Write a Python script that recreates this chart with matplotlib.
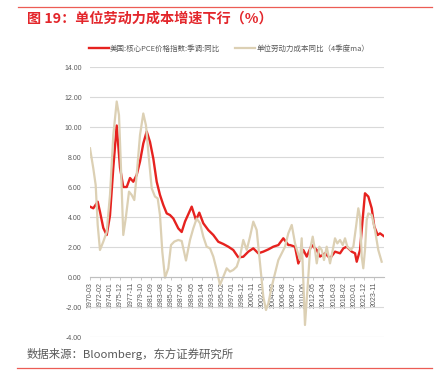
import matplotlib
matplotlib.use('Agg')
import matplotlib.pyplot as plt
from matplotlib.lines import Line2D

plt.rcParams['font.family'] = ['Liberation Sans', 'Noto Sans CJK SC', 'DejaVu Sans']

# 美国核心PCE同比 (decimal year, %)
pce_t = [1970.17, 1970.79, 1971.62, 1972.05, 1972.68, 1973.32, 1973.94, 1974.57, 1975.21,
         1975.83, 1976.45, 1977.10, 1977.72, 1978.34, 1978.98, 1979.61, 1980.23, 1980.87,
         1981.50, 1982.12, 1982.76, 1983.38, 1984.01, 1984.65, 1985.27, 1985.90, 1986.84,
         1987.48, 1988.11, 1989.37, 1990.18, 1990.80, 1991.56, 1992.50, 1993.45, 1994.39,
         1995.34, 1996.28, 1997.22, 1998.17, 1999.11, 2000.06, 2001.00, 2001.95, 2002.89,
         2003.84, 2004.78, 2005.73, 2006.67, 2007.62, 2007.93, 2008.88, 2009.50, 2010.45,
         2011.09, 2012.03, 2012.98, 2013.60, 2014.55, 2015.49, 2016.43, 2017.38, 2018.00,
         2018.64, 2019.59, 2020.21, 2020.53, 2021.15, 2021.58, 2022.09, 2022.72, 2023.36,
         2023.85, 2024.49, 2024.93, 2025.62]
pce_v = [4.69, 4.58, 5.02, 4.35, 3.27, 2.80, 4.10, 7.30, 10.10,
         7.30, 6.00, 6.00, 6.60, 6.35, 6.80, 7.70, 8.90, 9.70,
         9.00, 7.90, 6.35, 5.47, 4.80, 4.24, 4.13, 3.90, 3.24,
         3.00, 3.70, 4.69, 3.80, 4.29, 3.58, 3.13, 2.80, 2.35,
         2.20, 2.02, 1.80, 1.31, 1.35, 1.69, 1.91, 1.58, 1.69,
         1.84, 2.02, 2.13, 2.58, 2.13, 2.13, 2.02, 0.90, 1.80,
         1.36, 2.13, 1.80, 1.36, 1.58, 1.24, 1.69, 1.58, 1.91,
         2.02, 1.69, 1.58, 1.02, 1.80, 3.58, 5.58, 5.36, 4.58,
         3.36, 2.80, 2.91, 2.73]

# 单位劳动力成本同比(4季度ma)
ulc_t = [1970.17, 1970.79, 1971.24, 1971.62, 1972.05, 1972.68, 1973.32, 1973.94, 1974.57,
         1975.21, 1975.64, 1976.02, 1976.45, 1976.91, 1977.53, 1978.04, 1978.53, 1978.98,
         1979.61, 1980.23, 1980.74, 1981.17, 1981.82, 1982.44, 1982.95, 1983.38, 1983.82,
         1984.33, 1984.95, 1985.46, 1986.08, 1986.84, 1987.48, 1988.29, 1989.05, 1989.67,
         1990.31, 1990.94, 1991.56, 1992.20, 1992.83, 1993.45, 1994.09, 1994.71, 1995.34,
         1995.98, 1996.60, 1997.22, 1997.87, 1998.49, 1999.11, 1999.76, 2000.38, 2001.00,
         2001.64, 2002.27, 2002.89, 2003.40, 2003.84, 2004.48, 2005.10, 2005.73, 2006.37,
         2006.99, 2007.61, 2008.26, 2008.88, 2009.82, 2010.14, 2010.76, 2011.39, 2011.71,
         2012.22, 2012.65, 2012.98, 2013.47, 2013.92, 2014.35, 2014.86, 2015.49, 2016.00,
         2016.43, 2016.87, 2017.38, 2017.89, 2018.32, 2018.76, 2019.40, 2019.89, 2020.40,
         2020.83, 2021.15, 2021.47, 2021.77, 2022.09, 2022.41, 2022.72, 2023.36, 2023.98,
         2024.60, 2025.24]
ulc_v = [8.58, 7.24, 6.13, 3.47, 1.80, 2.36, 3.00, 5.47, 9.47,
         11.70, 10.80, 7.24, 2.80, 3.90, 5.69, 5.47, 5.13, 6.80,
         9.47, 10.90, 10.10, 8.36, 5.91, 5.36, 5.24, 4.13, 1.69,
         -0.05, 0.58, 2.13, 2.36, 2.47, 2.40, 1.10, 2.47, 3.24,
         3.90, 3.58, 2.69, 2.02, 1.91, 1.36, 0.47, -0.53, 0.02,
         0.58, 0.36, 0.47, 0.69, 1.36, 2.47, 1.80, 2.69, 3.69,
         3.13, 0.91, -1.31, -2.20, -1.76, -0.64, 0.24, 1.13, 1.58,
         2.02, 2.91, 3.47, 2.24, 1.13, 2.58, -3.20, 0.02, 1.80,
         2.69, 1.80, 0.91, 2.02, 1.80, 1.13, 2.02, 0.91, 1.80,
         2.58, 2.24, 2.47, 2.13, 2.58, 2.02, 1.80, 2.02, 3.36,
         4.58, 4.00, 1.36, 0.58, 1.80, 3.80, 4.24, 4.13, 3.13,
         1.80, 1.02]

# 横轴标签: 每23个月一个
tick_t = [1970 + (2 + 23 * k) / 12 for k in range(29)]
tick_lab = ['%d-%02d' % (1970 + (2 + 23 * k) // 12, (2 + 23 * k) % 12 + 1) for k in range(29)]

red = '#e6221f'
tan = '#dcd0b4'
gray = '#595959'

fig = plt.figure(figsize=(4.37, 3.86), dpi=100)
ax = fig.add_axes([90 / 437, 1 - 337 / 386, 294 / 437, 270 / 386])

ax.plot(pce_t, pce_v, color=red, lw=1.7, solid_joinstyle='round')
ax.plot(ulc_t, ulc_v, color=tan, lw=1.6, solid_joinstyle='round')

ax.set_xlim(1970.167, 2025.68)
ax.set_ylim(-4, 14)
ax.set_yticks(range(-4, 15, 2))
ax.set_yticklabels(['%.2f' % v for v in range(-4, 15, 2)])
ax.yaxis.grid(True, color='#d9d9d9', lw=0.8)
ax.set_axisbelow(True)

for s in ['top', 'right', 'left']:
    ax.spines[s].set_visible(False)
ax.spines['bottom'].set_position(('data', 0))
ax.spines['bottom'].set_color('#bfbfbf')
ax.spines['bottom'].set_linewidth(0.8)

ax.set_xticks(tick_t)
ax.set_xticklabels(tick_lab, rotation=90)
ax.tick_params(axis='x', length=2.5, width=0.6, color='#bfbfbf', pad=1,
               labelsize=5, labelcolor=gray)
ax.tick_params(axis='y', length=0, pad=6, labelsize=5, labelcolor=gray)

handles = [Line2D([], [], color=red, lw=1.7), Line2D([], [], color=tan, lw=1.6)]
fig.legend(handles, ['美国:核心PCE价格指数:季调:同比', '单位劳动力成本同比（4季度ma）'],
           loc='center left', bbox_to_anchor=(89 / 437, 1 - 49 / 386), ncol=2,
           frameon=False, fontsize=5.4, handlelength=2.6, handletextpad=0.2,
           columnspacing=2.0, borderpad=0, borderaxespad=0, labelcolor=gray,
           prop={'family': ['Noto Sans CJK SC'], 'size': 5.4})

fig.add_artist(Line2D([18 / 437, 432 / 437], [1 - 7 / 386, 1 - 7 / 386], color='#ec5c55', lw=0.9))
fig.add_artist(Line2D([17 / 437, 432 / 437], [1 - 368 / 386, 1 - 368 / 386], color='#ec5c55', lw=0.9))

fig.text(27 / 437, 1 - 19 / 386, '图 19：单位劳动力成本增速下行（%）', color='#e3262b',
         fontsize=10.2, fontweight='bold', va='center', family=['Noto Sans CJK SC'])
fig.text(27 / 437, 1 - 354 / 386, '数据来源：Bloomberg，东方证券研究所', color=gray,
         fontsize=8.2, va='center', family=['Noto Sans CJK SC'])

fig.savefig('out.png', dpi=100)
